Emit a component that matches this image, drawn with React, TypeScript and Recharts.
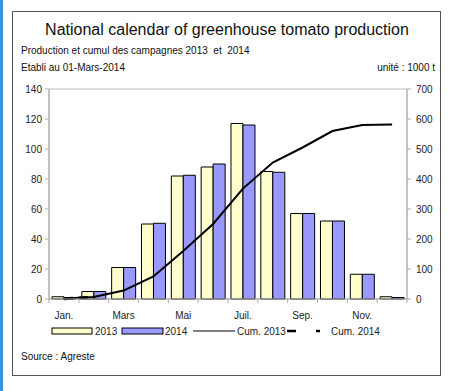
import React from "react";
import {
  ComposedChart,
  Bar,
  Line,
  XAxis,
  YAxis,
  ReferenceArea,
} from "recharts";

const months = ["Jan.", "Févr.", "Mars", "Avr.", "Mai", "Juin", "Juil.", "Août", "Sep.", "Oct.", "Nov.", "Déc."];
const shownMonths = ["Jan.", "Mars", "Mai", "Juil.", "Sep.", "Nov."];
const prod2013 = [1.5, 5, 21, 50, 82, 88, 117, 85, 57, 52, 16.5, 1.5];
const prod2014 = [1, 5, 21, 50.5, 82.5, 90, 116, 84.5, 57, 52, 16.5, 1];
const cum2013 = [1.5, 6.5, 28, 75, 160, 250, 368, 455, 505, 560, 580, 582];
const cum2014: (number | null)[] = [1, 6, null, null, null, null, null, null, null, null, null, null];
const leftTicks = [0, 20, 40, 60, 80, 100, 120, 140];
const rightTicks = [0, 100, 200, 300, 400, 500, 600, 700];

const data = months.map((m, i) => ({
  month: m,
  p2013: prod2013[i],
  p2014: prod2014[i],
  c2013: cum2013[i],
  c2014: cum2014[i],
}));

const FONT = "'Liberation Sans', Arial, sans-serif";

const XTick = (props: any) => {
  const { x, y, payload } = props;
  const off = payload.offset || 0;
  const show = shownMonths.includes(payload.value);
  return (
    <g>
      <line x1={x + off} x2={x + off} y1={y - 10} y2={y - 6} stroke="#aaa" />
      {payload.index === 0 && <line x1={x - off} x2={x - off} y1={y - 10} y2={y - 6} stroke="#aaa" />}
      {show && (
        <text x={x} y={y + 10} textAnchor="middle" fontSize={10} fill="#222" fontFamily={FONT}>
          {payload.value}
        </text>
      )}
    </g>
  );
};

const LegendBox = () => (
  <svg width={460} height={14} style={{ display: "block" }}>
    <rect x={52} y={4} width={40} height={6} fill="#FFFFCC" stroke="#000" />
    <text x={95} y={11} fontSize={10} fontFamily={FONT} fill="#222">2013</text>
    <rect x={122} y={4} width={41} height={6} fill="#9999FF" stroke="#000" />
    <text x={165} y={11} fontSize={10} fontFamily={FONT} fill="#222">2014</text>
    <line x1={193} x2={235} y1={7} y2={7} stroke="#000" strokeWidth={1.2} />
    <text x={237} y={11} fontSize={10} fontFamily={FONT} fill="#222">Cum. 2013</text>
    <line x1={287} x2={296} y1={7} y2={7} stroke="#000" strokeWidth={2.5} />
    <line x1={316} x2={320} y1={7} y2={7} stroke="#000" strokeWidth={2.5} />
    <text x={331} y={11} fontSize={10} fontFamily={FONT} fill="#222">Cum. 2014</text>
  </svg>
);

export default function App() {
  return (
    <div
      style={{
        position: "fixed",
        left: 0,
        top: 0,
        width: 460,
        height: 391,
        background: "#fff",
        fontFamily: FONT,
        overflow: "hidden",
      }}
    >
      <div style={{ position: "absolute", left: 0, top: 0, width: 3, height: 391, background: "#3d8fe0" }} />
      <div
        style={{
          position: "absolute",
          left: 12,
          top: 11,
          width: 429,
          height: 365,
          border: "1px solid #555",
          boxSizing: "border-box",
        }}
      />
      <div style={{ position: "absolute", left: -3, width: 460, top: 21, textAlign: "center", fontSize: 16, color: "#111", whiteSpace: "nowrap" }}>
        National calendar of greenhouse tomato production
      </div>
      <div style={{ position: "absolute", left: 21, top: 45, fontSize: 10, color: "#111", whiteSpace: "pre" }}>
        {"Production et cumul des campagnes 2013  et  2014"}
      </div>
      <div style={{ position: "absolute", left: 21, top: 62, fontSize: 10, color: "#111" }}>Etabli au 01-Mars-2014</div>
      <div style={{ position: "absolute", right: 25, top: 62, fontSize: 10, color: "#111" }}>unité : 1000 t</div>
      <div style={{ position: "absolute", left: 21, top: 351, fontSize: 10, color: "#111" }}>Source : Agreste</div>
      <div style={{ position: "absolute", left: 0, top: 0 }}>
        <ComposedChart
          width={460}
          height={391}
          data={data}
          margin={{ top: 89, right: 0, left: 0, bottom: 62 }}
          barCategoryGap="10%"
          barGap={0}
        >
          <XAxis
            dataKey="month"
            xAxisId="x"
            interval={0}
            tick={<XTick />}
            tickLine={false}
            axisLine={{ stroke: "#aaa" }}
            height={30}
            tickSize={8}
          />
          <YAxis
            yAxisId="left"
            domain={[0, 140]}
            ticks={leftTicks}
            width={49}
            tickSize={4}
            tickMargin={3}
            tickLine={{ stroke: "#aaa" }}
            axisLine={{ stroke: "#aaa" }}
            tick={{ fontSize: 10, fill: "#222", fontFamily: FONT }}
            interval={0}
          />
          <YAxis
            yAxisId="right"
            orientation="right"
            domain={[0, 700]}
            ticks={rightTicks}
            width={53}
            tickSize={4}
            tickMargin={5}
            tickLine={{ stroke: "#aaa" }}
            axisLine={{ stroke: "#aaa" }}
            tick={{ fontSize: 10, fill: "#222", fontFamily: FONT, textAnchor: "start" }}
            interval={0}
          />
          <ReferenceArea xAxisId="x" yAxisId="left" y1={0} y2={140} fill="none" stroke="#bbb" />
          <Bar xAxisId="x" yAxisId="left" dataKey="p2013" fill="#FFFFCC" stroke="#000" strokeWidth={1} isAnimationActive={false} />
          <Bar xAxisId="x" yAxisId="left" dataKey="p2014" fill="#9999FF" stroke="#000" strokeWidth={1} isAnimationActive={false} />
          <Line xAxisId="x" yAxisId="right" type="linear" dataKey="c2013" stroke="#000" strokeWidth={2} dot={false} isAnimationActive={false} />
          <Line xAxisId="x" yAxisId="right" type="linear" dataKey="c2014" stroke="#000" strokeWidth={3} strokeDasharray="9 6" dot={false} isAnimationActive={false} connectNulls={false} />
        </ComposedChart>
      </div>
      <div style={{ position: "absolute", left: 0, top: 324 }}>
        <LegendBox />
      </div>
    </div>
  );
}
